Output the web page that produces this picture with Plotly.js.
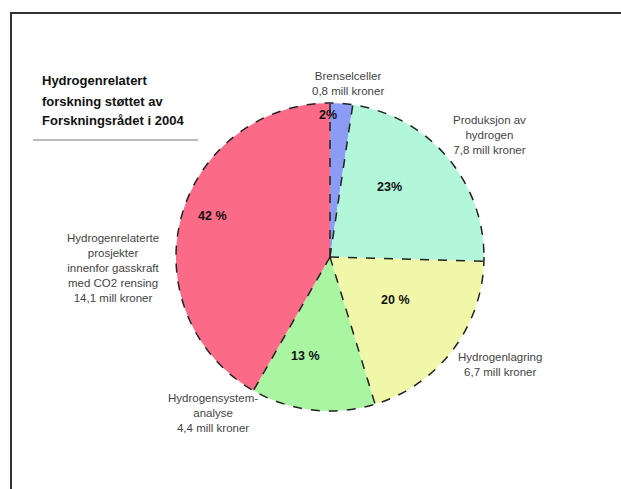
<!DOCTYPE html>
<html><head><meta charset="utf-8">
<script src="https://cdn.plot.ly/plotly-3.0.1.min.js"></script>
<style>html,body{margin:0;padding:0;background:#fff}</style>
</head><body><div id="chart" style="width:621px;height:489px"></div>
<script>
const categories = ["Brenselceller", "Produksjon av hydrogen", "Hydrogenlagring", "Hydrogensystem-analyse", "Hydrogenrelaterte prosjekter innenfor gasskraft med CO2 rensing"];
const values = [0.8, 7.8, 6.7, 4.4, 14.1];
const pctLabels = ["2%", "23%", "20 %", "13 %", "42 %"];
const outsideLabels = [
  "Brenselceller<br>0,8 mill kroner",
  "Produksjon av<br>hydrogen<br>7,8 mill kroner",
  "Hydrogenlagring<br>6,7 mill kroner",
  "Hydrogensystem-<br>analyse<br>4,4 mill kroner",
  "Hydrogenrelaterte<br>prosjekter<br>innenfor gasskraft<br>med CO2 rensing<br>14,1 mill kroner"
];
const titleLines = ["Hydrogenrelatert", "forskning støttet av", "Forskningsrådet i 2004"];
const colors = ["#8c9cf5", "#b2f7da", "#f1f7a8", "#a9f5a2", "#fb6a86"];

const W = 621, H = 489;
const cx = 330, cy = 257, R = 154;
const px = x => x / W, py = y => 1 - y / H;

// positions (layout only)
const pctPos = [[328,115],[389,187],[395,300],[305,356],[212,216]];
const labPos = [[348,83],[489,135],[500,364],[213,413],[113,268]];
const titleY = [81, 101, 121];

const shapes = [
  {type:'line', xref:'paper', yref:'paper', x0:px(10), x1:1, y0:py(13), y1:py(13), line:{color:'#333', width:2}},
  {type:'line', xref:'paper', yref:'paper', x0:px(11), x1:px(11), y0:py(13), y1:0, line:{color:'#333', width:2}},
  {type:'line', xref:'paper', yref:'paper', x0:px(33), x1:px(198), y0:py(140), y1:py(140), line:{color:'#777', width:1}},
  {type:'circle', xref:'paper', yref:'paper', x0:px(cx-R), x1:px(cx+R), y0:py(cy+R), y1:py(cy-R), line:{color:'#222', width:1.5, dash:'dash'}}
];
const total = values.reduce((a,b)=>a+b,0);
let cum = 0;
for (let i = 0; i < values.length; i++) {
  const ang = cum / total * 2 * Math.PI;
  shapes.push({type:'line', xref:'paper', yref:'paper',
    x0:px(cx), y0:py(cy), x1:px(cx + R*Math.sin(ang)), y1:py(cy - R*Math.cos(ang)),
    line:{color:'#222', width:1.5, dash:'dash'}});
  cum += values[i];
}

const annotations = [];
const base = {xref:'paper', yref:'paper', showarrow:false, xanchor:'center', yanchor:'middle'};
pctLabels.forEach((t,i)=>annotations.push(Object.assign({}, base, {x:px(pctPos[i][0]), y:py(pctPos[i][1]),
  text:'<b>'+t+'</b>', font:{family:'Liberation Sans, Arial', size:12.5, color:'#111'}})));
outsideLabels.forEach((t,i)=>annotations.push(Object.assign({}, base, {x:px(labPos[i][0]), y:py(labPos[i][1]),
  text:t, align:'center', font:{family:'Liberation Sans, Arial', size:11.5, color:'#444'}})));
titleLines.forEach((t,i)=>annotations.push(Object.assign({}, base, {x:px(40), y:py(titleY[i]), xanchor:'left',
  text:'<b>'+t+'</b>', font:{family:'Liberation Sans, Arial', size:13, color:'#111'}})));

const trace = {
  type:'pie', labels:categories, values:values, sort:false, direction:'clockwise', rotation:0,
  marker:{colors:colors, line:{width:0}}, textinfo:'none', hoverinfo:'label+value',
  domain:{x:[px(cx-R), px(cx+R)], y:[py(cy+R), py(cy-R)]}
};
Plotly.newPlot('chart', [trace], {
  width:W, height:H, margin:{l:0,r:0,t:0,b:0}, showlegend:false,
  paper_bgcolor:'#fff', shapes:shapes, annotations:annotations
}, {displayModeBar:false, staticPlot:true});
</script></body></html>
